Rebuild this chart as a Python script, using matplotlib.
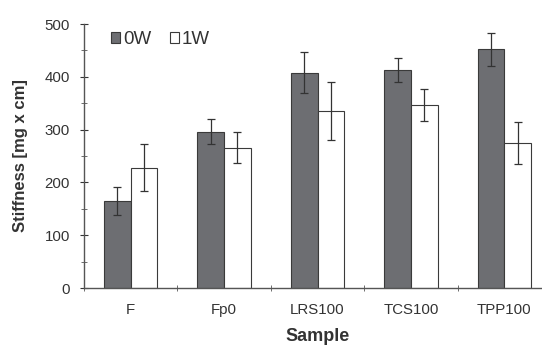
import matplotlib
matplotlib.use("Agg")
import matplotlib.pyplot as plt
import numpy as np
from matplotlib.ticker import MultipleLocator

plt.rcParams['font.family'] = ['Liberation Sans', 'DejaVu Sans']

categories = ["F", "Fp0", "LRS100", "TCS100", "TPP100"]
vals_0w = [165, 296, 408, 413, 452]
err_0w = [27, 24, 39, 22, 31]
vals_1w = [228, 266, 336, 347, 275]
err_1w = [44, 30, 55, 30, 40]

fig = plt.figure(figsize=(5.42, 3.45), dpi=100)
ax = fig.add_axes([84/542, 1-288/345, (551-84)/542, 264/345])

x = np.arange(len(categories))
w = 0.285
ax.bar(x - w/2, vals_0w, w, color="#6d6e72", edgecolor="#3a3a3a", linewidth=0.8,
       yerr=err_0w, capsize=3, error_kw=dict(ecolor="#333333", elinewidth=0.9, capthick=0.9), label="0W", zorder=2)
ax.bar(x + w/2, vals_1w, w, color="white", edgecolor="#3a3a3a", linewidth=0.8,
       yerr=err_1w, capsize=3, error_kw=dict(ecolor="#333333", elinewidth=0.9, capthick=0.9), label="1W", zorder=2)

ax.set_xlim(-0.5, len(categories) - 0.5)
ax.set_ylim(0, 500)
ax.yaxis.set_major_locator(MultipleLocator(100))
ax.yaxis.set_minor_locator(MultipleLocator(50))
ax.set_xticks(x)
ax.set_xticks(np.arange(len(categories) + 1) - 0.5, minor=True)
ax.set_xticklabels(categories)
ax.tick_params(axis='x', which='major', length=0, labelsize=10.8, colors="#333333", pad=11)
ax.tick_params(axis='x', which='minor', length=5, direction='inout', color="#555555")
ax.tick_params(axis='y', which='major', length=6, direction='inout', labelsize=10.8, colors="#333333", pad=7)
ax.tick_params(axis='y', which='minor', length=4, direction='inout', color="#555555")
for s in ['top', 'right']:
    ax.spines[s].set_visible(False)
for s in ['left', 'bottom']:
    ax.spines[s].set_color("#555555")
    ax.spines[s].set_linewidth(1.0)

ax.set_ylabel("Stiffness [mg x cm]", fontsize=12, fontweight='bold', color="#333333", labelpad=12)
ax.set_xlabel("Sample", fontsize=13, fontweight='bold', color="#333333", labelpad=8)

leg = ax.legend(loc='upper left', bbox_to_anchor=(0.033, 1.015), ncol=2, frameon=False,
                fontsize=13.5, handlelength=0.5, handleheight=0.5, handletextpad=0.15,
                columnspacing=1.0, borderaxespad=0.2)
for t in leg.get_texts():
    t.set_color("#333333")

fig.savefig("out.png", dpi=100)
